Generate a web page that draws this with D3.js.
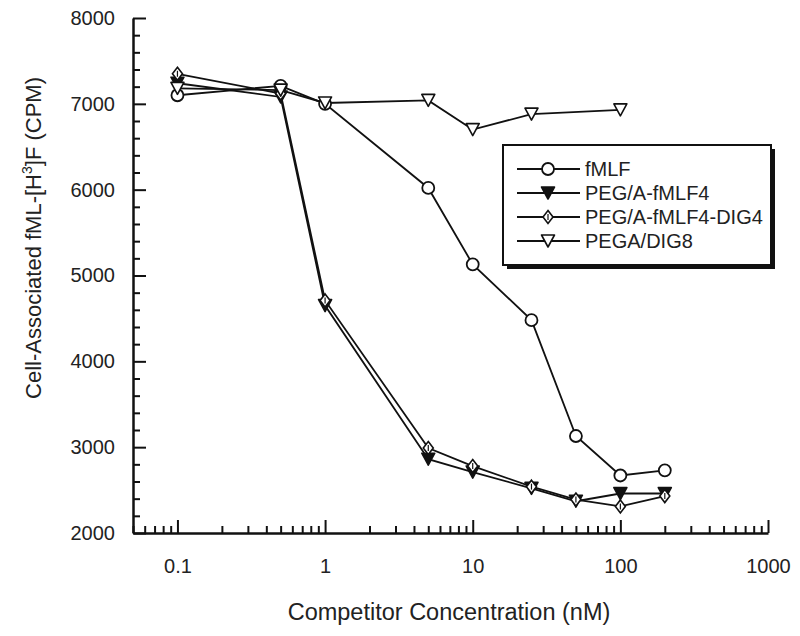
<!DOCTYPE html>
<html>
<head>
<meta charset="utf-8">
<script src="https://cdn.jsdelivr.net/npm/d3@7"></script>
<style>
  html, body { margin: 0; padding: 0; background: #fff; }
  svg { display: block; }
  text { font-family: "Liberation Sans", Arial, sans-serif; fill: #222; }
</style>
</head>
<body>
<svg id="chart" width="800" height="636"></svg>
<script>
// ---- data ----
const concentrations = [0.1, 0.5, 1, 5, 10, 25, 50, 100, 200];
const fMLF        = [7100, 7210, 7000, 6020, 5130, 4480, 3130, 2670, 2730];
const pegFMLF4    = [7240, 7080, 4650, 2860, 2710, 2520, 2370, 2460, 2460];
const pegFMLF4Dig = [7350, 7120, 4710, 2990, 2780, 2540, 2390, 2310, 2430];
const degaConc    = [0.1, 0.5, 1, 5, 10, 25, 100];
const pegaDig8    = [7180, 7160, 7010, 7040, 6700, 6880, 6930];
const seriesNames = ["fMLF", "PEG/A-fMLF4", "PEG/A-fMLF4-DIG4", "PEGA/DIG8"];
const yMajorTicks = [2000, 3000, 4000, 5000, 6000, 7000, 8000];
const xMajorTicks = [0.1, 1, 10, 100, 1000];
const xTickLabels = ["0.1", "1", "10", "100", "1000"];

const series = [
  { name: seriesNames[0], x: concentrations, y: fMLF, marker: "circle" },
  { name: seriesNames[1], x: concentrations, y: pegFMLF4, marker: "triFilled" },
  { name: seriesNames[2], x: concentrations, y: pegFMLF4Dig, marker: "diamond" },
  { name: seriesNames[3], x: degaConc, y: pegaDig8, marker: "triOpen" }
];

const svg = d3.select("#chart");
const x = d3.scaleLog().domain([0.05, 1000]).range([133, 768]);
const y = d3.scaleLinear().domain([2000, 8000]).range([533, 18]);

// minor ticks
const xMinor = [];
for (let e = -2; e <= 2; e++) for (let m = 2; m <= 9; m++) {
  const v = m * Math.pow(10, e);
  if (v >= 0.05 && v <= 1000) xMinor.push(v);
}
const yMinor = d3.range(2000, 8001, 200).filter(v => v % 1000 !== 0);

// y axis
const gy = svg.append("g").attr("transform", "translate(133,0)");
gy.call(d3.axisLeft(y).tickValues(yMinor).tickSize(-7).tickSizeOuter(0).tickFormat(""));
gy.call(g => g.select(".domain").remove());
const gy2 = svg.append("g").attr("transform", "translate(133,0)");
gy2.call(d3.axisLeft(y).tickValues(yMajorTicks).tickSize(-13).tickSizeOuter(0).tickPadding(18).tickFormat(d3.format("d")));
[gy, gy2].forEach(g => {
  g.selectAll("line").attr("stroke", "#111").attr("stroke-width", 2);
  g.selectAll("path").attr("stroke", "#111").attr("stroke-width", 2.5);
  g.selectAll("text").attr("font-size", 20).attr("fill", "#222")
   .attr("font-family", "Liberation Sans, Arial, sans-serif");
});

// x axis
const gx = svg.append("g").attr("transform", "translate(0,533)");
gx.call(d3.axisBottom(x).tickValues(xMinor).tickSize(-7).tickSizeOuter(0).tickFormat(""));
gx.call(g => g.select(".domain").remove());
const gx2 = svg.append("g").attr("transform", "translate(0,533)");
gx2.call(d3.axisBottom(x).tickValues(xMajorTicks).tickSize(-13).tickSizeOuter(0).tickPadding(26)
  .tickFormat((d, i) => xTickLabels[i]));
[gx, gx2].forEach(g => {
  g.selectAll("line").attr("stroke", "#111").attr("stroke-width", 2);
  g.selectAll("path").attr("stroke", "#111").attr("stroke-width", 2.5);
  g.selectAll("text").attr("font-size", 20).attr("fill", "#222")
   .attr("font-family", "Liberation Sans, Arial, sans-serif");
});

// axis titles
svg.append("text").attr("x", 449).attr("y", 620).attr("text-anchor", "middle")
  .attr("font-size", 23.5).text("Competitor Concentration (nM)");
const yt = svg.append("text").attr("transform", "translate(41,238) rotate(-90)")
  .attr("text-anchor", "middle").attr("font-size", 22);
yt.append("tspan").text("Cell-Associated fML-[H");
yt.append("tspan").attr("font-size", 14).attr("dy", -9).text("3");
yt.append("tspan").attr("dy", 9).text("]F (CPM)");

// markers
function drawMarker(g, type, cx, cy) {
  if (type === "circle") {
    g.append("circle").attr("cx", cx).attr("cy", cy).attr("r", 6)
      .attr("fill", "#fff").attr("stroke", "#111").attr("stroke-width", 1.8);
  } else if (type === "triFilled" || type === "triOpen") {
    const w = 6.5, h = 6;
    g.append("path")
      .attr("d", `M${cx - w},${cy - h}L${cx + w},${cy - h}L${cx},${cy + h}Z`)
      .attr("fill", type === "triFilled" ? "#111" : "#fff")
      .attr("stroke", "#111").attr("stroke-width", 1.6).attr("stroke-linejoin", "round");
  } else if (type === "diamond") {
    const w = 5, h = 6.5;
    g.append("path")
      .attr("d", `M${cx},${cy - h}L${cx + w},${cy}L${cx},${cy + h}L${cx - w},${cy}Z`)
      .attr("fill", "#fff").attr("stroke", "#111").attr("stroke-width", 1.6);
    g.append("line").attr("x1", cx).attr("x2", cx).attr("y1", cy - 3).attr("y2", cy + 3)
      .attr("stroke", "#111").attr("stroke-width", 1.2);
  }
}

const line = d3.line().x(d => x(d[0])).y(d => y(d[1]));
const plot = svg.append("g");
series.forEach(s => {
  const pts = s.x.map((v, i) => [v, s.y[i]]);
  plot.append("path").attr("d", line(pts)).attr("fill", "none")
    .attr("stroke", "#111").attr("stroke-width", 1.8);
});
series.forEach(s => {
  s.x.forEach((v, i) => drawMarker(plot, s.marker, x(v), y(s.y[i])));
});

// legend
const lg = svg.append("g");
const lx = 503, ly = 145, lw = 268, lh = 120;
lg.append("rect").attr("x", lx + 4).attr("y", ly + 4).attr("width", lw).attr("height", lh).attr("fill", "#111");
lg.append("rect").attr("x", lx).attr("y", ly).attr("width", lw).attr("height", lh)
  .attr("fill", "#fff").attr("stroke", "#111").attr("stroke-width", 2);
series.forEach((s, i) => {
  const yy = 169 + i * 24;
  lg.append("line").attr("x1", 517).attr("x2", 580).attr("y1", yy).attr("y2", yy)
    .attr("stroke", "#111").attr("stroke-width", 1.8);
  drawMarker(lg, s.marker, 548, yy);
  lg.append("text").attr("x", 585).attr("y", yy + 7).attr("font-size", 20).text(s.name);
});
</script>
</body>
</html>
